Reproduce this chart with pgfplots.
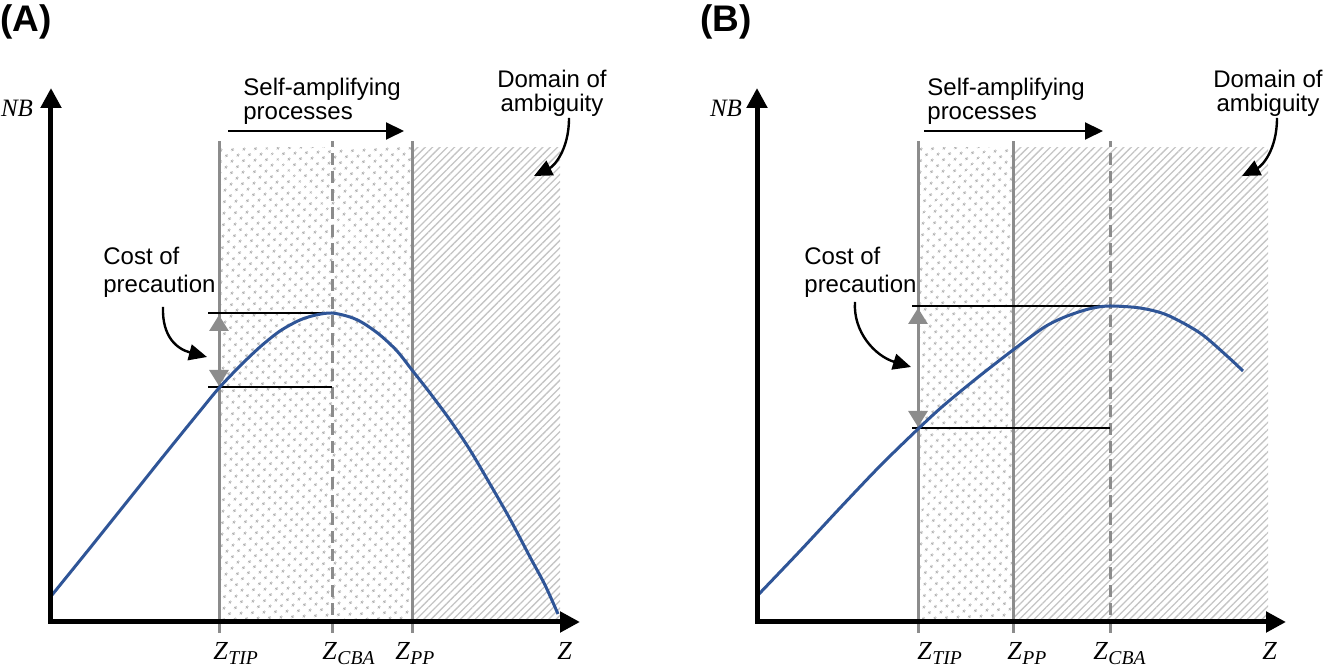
\documentclass[border=0pt]{standalone}
\usepackage{fontspec}
\setmainfont{Liberation Sans}
\newfontfamily\mfont{Liberation Serif}
\usepackage{pgfplots}
\pgfplotsset{compat=1.18}
\usetikzlibrary{arrows.meta,patterns.meta}

\definecolor{curveblue}{HTML}{2F5597}
\definecolor{vgray}{HTML}{8C8C8C}
\definecolor{dotgray}{HTML}{B8B8B8}
\definecolor{hatchgray}{HTML}{C4C4C4}

\newcommand\zfont{\fontsize{13}{15}\selectfont\mfont\itshape}
\newcommand\nbfont{\fontsize{12.5}{14}\selectfont\mfont\itshape}
\newcommand\lfont{\fontsize{12}{14}\selectfont}
\newcommand\pfont{\fontsize{18.5}{22}\selectfont\bfseries}
\newcommand\zl[1]{Z\kern0.3pt\raisebox{-0.4ex}{\fontsize{9.8}{11}\selectfont #1}}

\tikzset{
  dotfill/.style={pattern={Dots[angle=45,radius=0.75pt,distance=4pt]}, pattern color=dotgray},
  hatchfill/.style={pattern={Lines[angle=45,distance=2.6pt,line width=0.65pt]}, pattern color=hatchgray},
  txt/.style={inner sep=0pt, font=\lfont},
  zlab/.style={anchor=base west, inner sep=0pt, font=\zfont},
  bigarrow/.style={line width=1.2pt, -{Triangle[length=9pt,width=8pt]}},
}

\pgfplotsset{panel/.style={
  scale only axis, width=264.5pt, height=267pt,
  xmin=0, xmax=529, ymin=0, ymax=534,
  axis lines=left,
  axis line style={line width=2.5pt, line cap=rect, -{Triangle[length=10pt,width=10pt]}},
  xtick=\empty, ytick=\empty,
  clip=false, axis on top, anchor=south west,
}}

\begin{document}
\begin{tikzpicture}
\useasboundingbox (0,0) rectangle (661.5pt,334pt);

% ---------------- Panel A ----------------
\begin{axis}[panel, at={(25.5pt,23pt)}]
  \addplot[draw=none, dotfill] coordinates {(168,474) (361,474)} \closedcycle;
  \addplot[draw=none, hatchfill] coordinates {(361,474) (509,474)} \closedcycle;
  \addplot[vgray, line width=1.5pt] coordinates {(168,-11) (168,481)};
  \addplot[vgray, line width=1.5pt, dash pattern=on 6pt off 3pt] coordinates {(281,-11) (281,481)};
  \addplot[vgray, line width=1.5pt] coordinates {(361,-11) (361,481)};
  \addplot[black, line width=0.75pt] coordinates {(157,309) (281,309)};
  \addplot[black, line width=0.75pt] coordinates {(157,235) (281,235)};
  \addplot[vgray, line width=1.5pt, {Triangle[length=8pt,width=9.5pt]}-{Triangle[length=8pt,width=9.5pt]}] coordinates {(168,236) (168,307)};
  \addplot[curveblue, line width=1.5pt, smooth] coordinates {
    (1,27) (39,74) (79,124) (119,174) (149,211) (168,234) (189,256) (209,275)
    (229,291) (249,302) (265,307) (281,309) (299,305) (312,299) (329,287)
    (346,271) (361,252) (379,229) (399,202) (419,172) (439,138) (459,103)
    (479,65) (494,37) (507,8)};

  \node[anchor=west, inner sep=0pt, font=\pfont] at (axis cs:-51,600) {(A)};
  \node[inner sep=0pt, font=\nbfont] at (axis cs:-34,514) {NB};
  \node[txt, anchor=base west] at (axis cs:192,526) {Self-amplifying};
  \node[txt, anchor=base west] at (axis cs:192,502) {processes};
  \draw[line width=1pt, -{Triangle[length=9pt,width=8.5pt]}] (axis cs:177,491) -- (axis cs:353,491);
  \node[txt, anchor=base] at (axis cs:501,534) {Domain of};
  \node[txt, anchor=base] at (axis cs:501,510) {ambiguity};
  \draw[bigarrow] (axis cs:518,504) .. controls (axis cs:518,472) and (axis cs:503,456) .. (axis cs:483,446);
  \node[txt, anchor=base west] at (axis cs:52,357) {Cost of};
  \node[txt, anchor=base west] at (axis cs:52,329) {precaution};
  \draw[bigarrow] (axis cs:112,315) .. controls (axis cs:111,285) and (axis cs:126,273) .. (axis cs:156,265);
  \node[zlab] at (axis cs:162,-38) {\zl{TIP}};
  \node[zlab] at (axis cs:271,-38) {\zl{CBA}};
  \node[zlab] at (axis cs:344,-38) {\zl{PP}};
  \node[zlab] at (axis cs:506,-38) {Z};
\end{axis}

% ---------------- Panel B ----------------
\begin{axis}[panel, at={(378.5pt,23pt)}]
  \addplot[draw=none, dotfill] coordinates {(161,474) (256,474)} \closedcycle;
  \addplot[draw=none, hatchfill] coordinates {(256,474) (511,474)} \closedcycle;
  \addplot[vgray, line width=1.5pt] coordinates {(161,-11) (161,481)};
  \addplot[vgray, line width=1.5pt] coordinates {(256,-11) (256,481)};
  \addplot[vgray, line width=1.5pt, dash pattern=on 6pt off 3pt] coordinates {(353,-11) (353,481)};
  \addplot[black, line width=0.75pt] coordinates {(155,316) (353,316)};
  \addplot[black, line width=0.75pt] coordinates {(155,194) (353,194)};
  \addplot[vgray, line width=1.5pt, {Triangle[length=8pt,width=9.5pt]}-{Triangle[length=8pt,width=9.5pt]}] coordinates {(161,195) (161,314)};
  \addplot[curveblue, line width=1.5pt, smooth] coordinates {
    (2,28) (43,71) (83,114) (123,156) (161,193) (186,216) (220,244) (256,272)
    (286,294) (303,303) (320,309.5) (336,314) (353,316) (383,314)
    (410,307) (443,289) (470,266) (486,251)};

  \node[anchor=west, inner sep=0pt, font=\pfont] at (axis cs:-57,600) {(B)};
  \node[inner sep=0pt, font=\nbfont] at (axis cs:-31,514) {NB};
  \node[txt, anchor=base west] at (axis cs:170,526) {Self-amplifying};
  \node[txt, anchor=base west] at (axis cs:170,502) {processes};
  \draw[line width=1pt, -{Triangle[length=9pt,width=8.5pt]}] (axis cs:167,491) -- (axis cs:346,491);
  \node[txt, anchor=base] at (axis cs:511,534) {Domain of};
  \node[txt, anchor=base] at (axis cs:511,510) {ambiguity};
  \draw[bigarrow] (axis cs:520,504) .. controls (axis cs:520,472) and (axis cs:505,456) .. (axis cs:485,446);
  \node[txt, anchor=base west] at (axis cs:47,357) {Cost of};
  \node[txt, anchor=base west] at (axis cs:47,329) {precaution};
  \draw[bigarrow] (axis cs:98,320) .. controls (axis cs:96,290) and (axis cs:118,266) .. (axis cs:154,255);
  \node[zlab] at (axis cs:160,-38) {\zl{TIP}};
  \node[zlab] at (axis cs:250,-38) {\zl{PP}};
  \node[zlab] at (axis cs:336,-38) {\zl{CBA}};
  \node[zlab] at (axis cs:505,-38) {Z};
\end{axis}
\end{tikzpicture}
\end{document}
